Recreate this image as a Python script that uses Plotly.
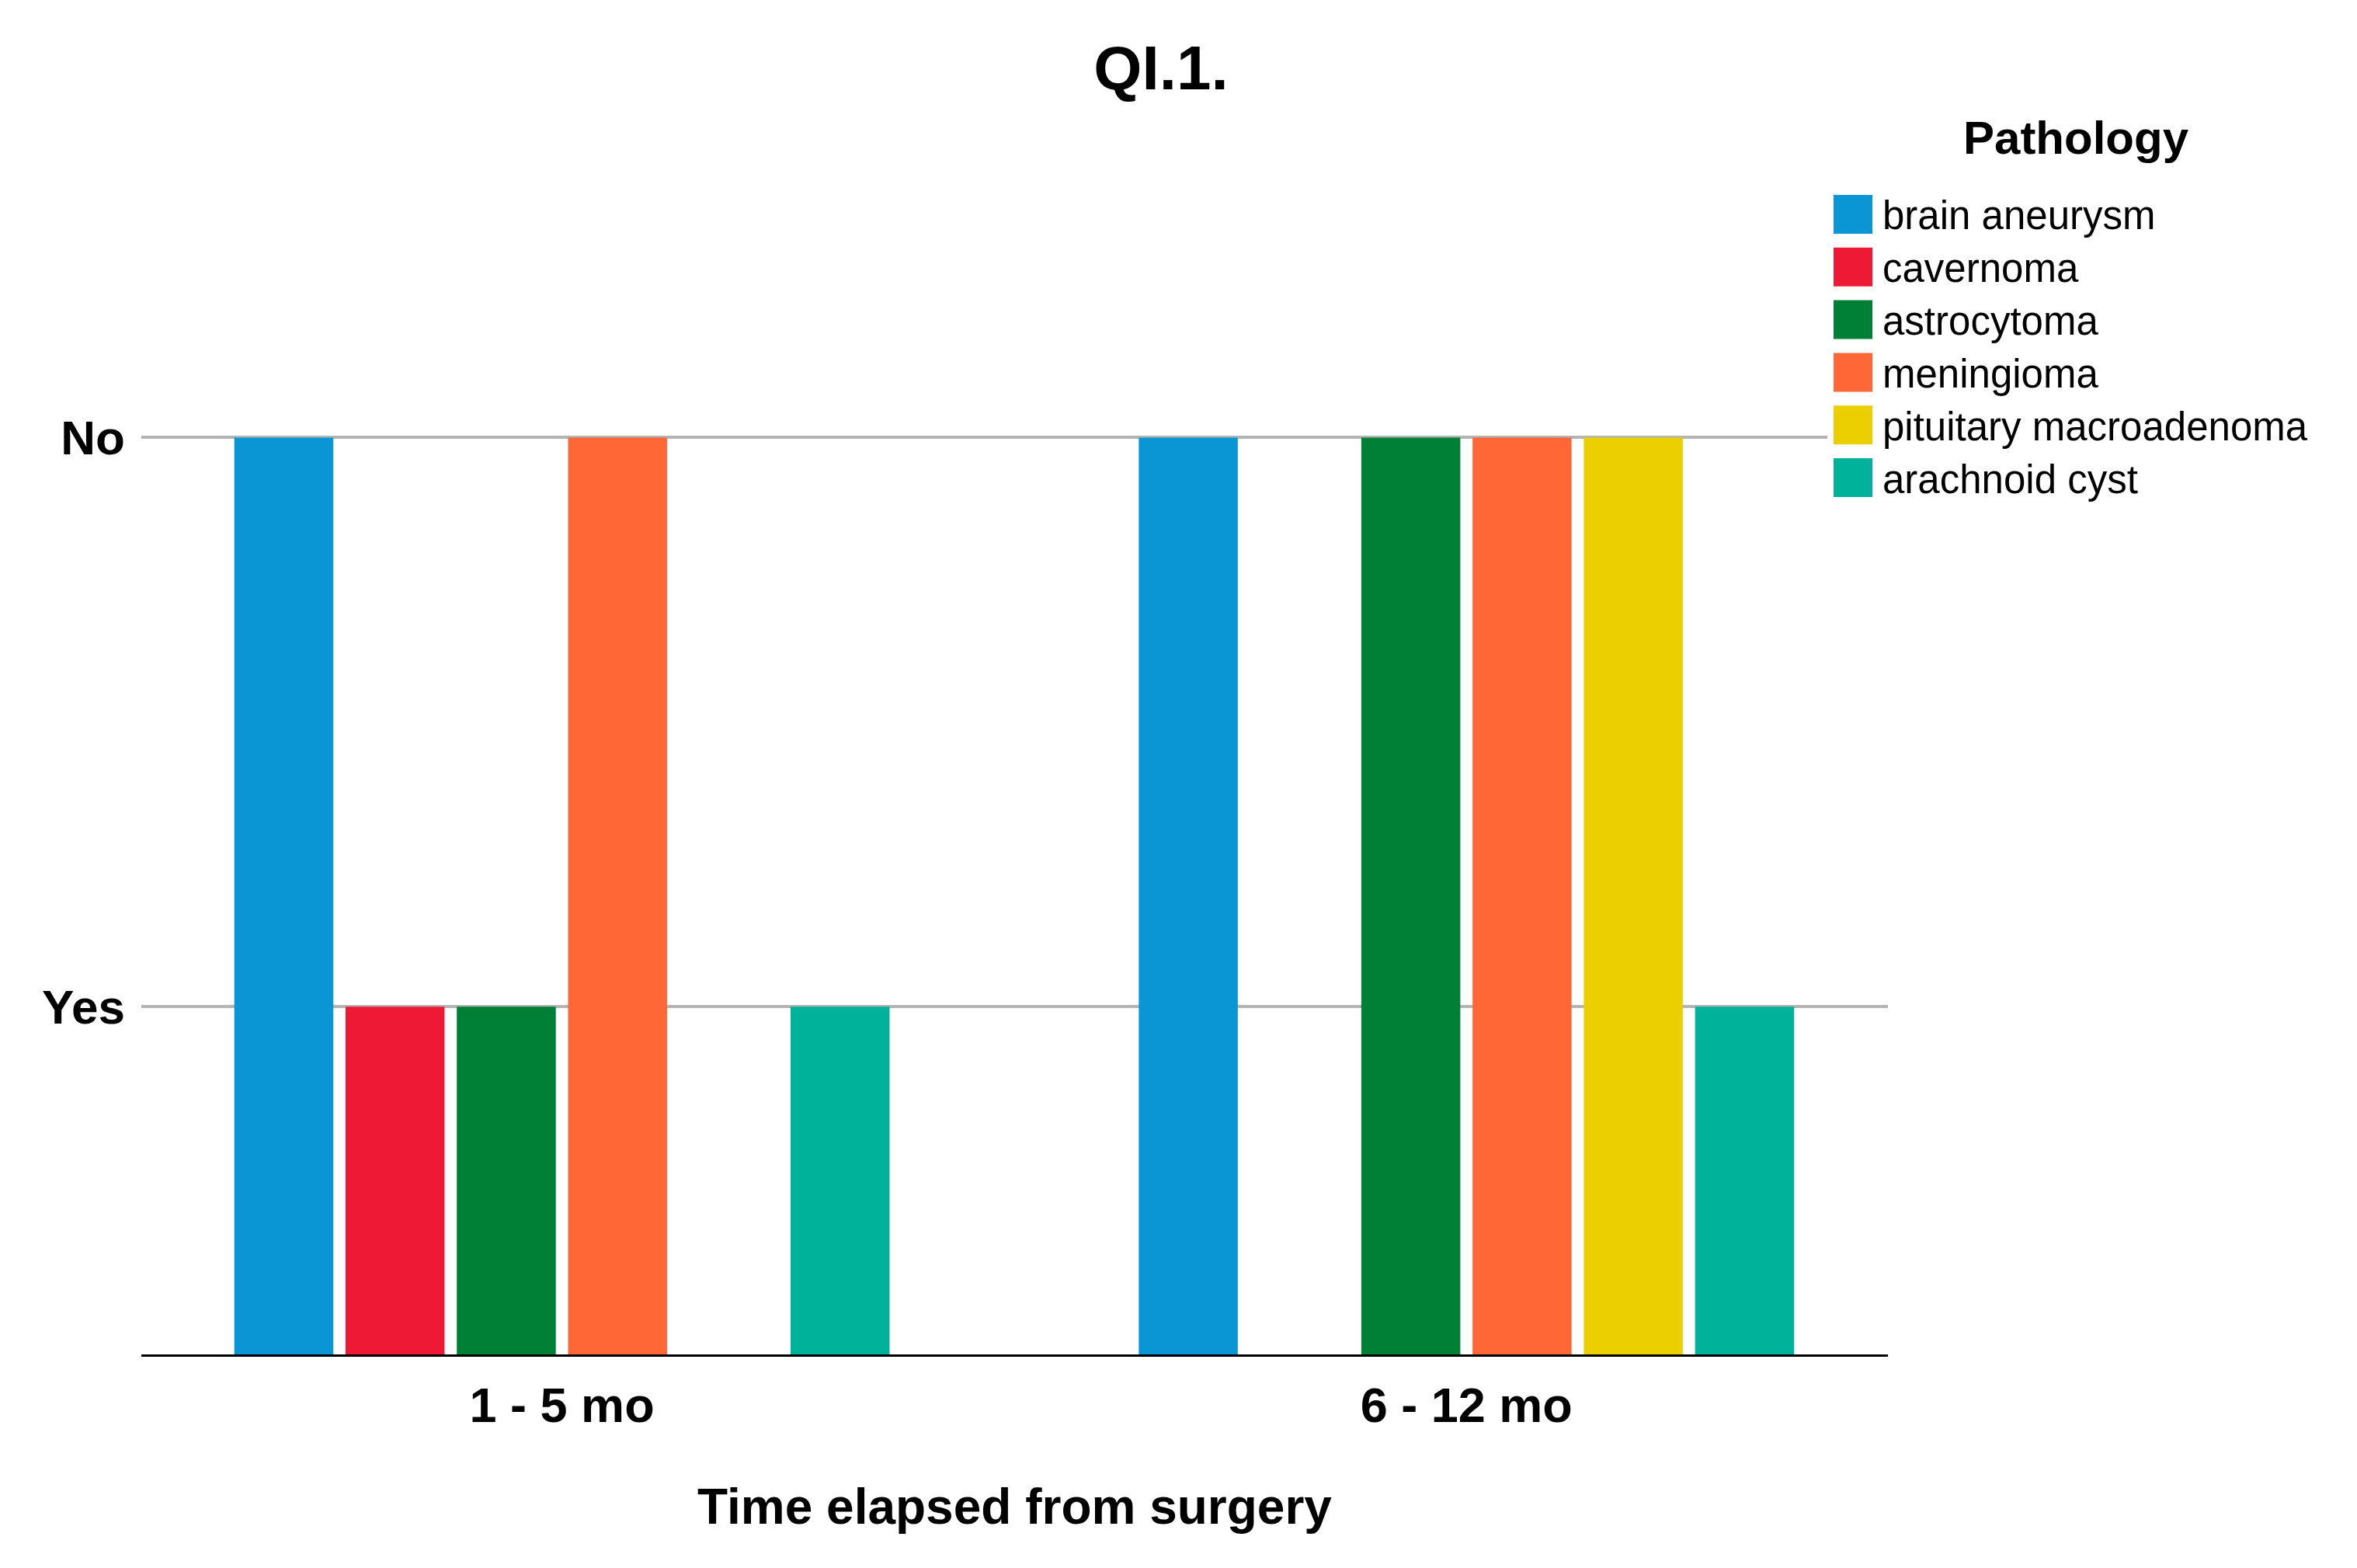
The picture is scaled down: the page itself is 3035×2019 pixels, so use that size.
import plotly.graph_objects as go

# ---- data ----
time_groups = ["1 - 5 mo", "6 - 12 mo"]
pathologies = ["brain aneurysm", "cavernoma", "astrocytoma", "meningioma",
               "pituitary macroadenoma", "arachnoid cyst"]
brain_aneurysm = ["No", "No"]
cavernoma = ["Yes", None]
astrocytoma = ["Yes", "No"]
meningioma = ["No", "No"]
pituitary_macroadenoma = [None, "No"]
arachnoid_cyst = ["Yes", "Yes"]
response_levels = ["Yes", "No"]          # order on the value axis (bottom to top)
colors = ["#0A96D4", "#EE1A35", "#007F37", "#FF6836", "#EBCF00", "#00B29A"]

series = [brain_aneurysm, cavernoma, astrocytoma, meningioma,
          pituitary_macroadenoma, arachnoid_cyst]
level_value = {lvl: i + 1 for i, lvl in enumerate(response_levels)}

# ---- layout geometry (pixels, reference screen coordinates) ----
SW, SH = 3035, 2019          # screen
OFF = 8                      # default page margin
W, H = SW - 2 * OFF, SH - 2 * OFF
PL, PR, PT, PB = 182, 2431, 559, 1744     # plot area in screen px
ML, MR, MT, MB = PL - OFF, W - (PR - OFF), PT - OFF, H - (PB - OFF)
PW, PH = W - ML - MR, H - MT - MB
FONT = "Liberation Sans, Arial, sans-serif"


def px_x(px):
    return (px - OFF - ML) / PW


def px_y(py):
    return (H - MB - (py - OFF)) / PH


fig = go.Figure()
for name, vals, col in zip(pathologies, series, colors):
    fig.add_trace(go.Bar(
        x=time_groups,
        y=[level_value[v] if v is not None else None for v in vals],
        name=name,
        marker=dict(color=col, line=dict(width=0)),
        showlegend=False,
    ))

fig.update_layout(
    width=W, height=H,
    margin=dict(l=ML, r=MR, t=MT, b=MB),
    paper_bgcolor="white", plot_bgcolor="white",
    barmode="group", bargap=0.262, bargroupgap=0.11,
    font=dict(family=FONT, color="black"),
    title=dict(text="QI.1.", xref="container", x=(1495 - OFF) / W, xanchor="center",
               yref="container", y=1 - (87 - OFF) / H, yanchor="middle",
               font=dict(size=80, weight="bold", family=FONT, color="black")),
)

fig.update_xaxes(
    type="category", range=[-0.465, 1.466],
    showline=True, linecolor="black", linewidth=3,
    showgrid=False, zeroline=False, ticks="",
    tickfont=dict(size=63, weight="bold", family=FONT, color="black"),
    ticklabelstandoff=8,
    title=dict(text="Time elapsed from surgery", standoff=75,
               font=dict(size=64, weight="bold", family=FONT, color="black")),
)
fig.update_yaxes(
    range=[0.389, 2.006],
    tickvals=[level_value[l] for l in response_levels],
    ticktext=response_levels,
    showgrid=True, gridcolor="#B4B4B4", gridwidth=4,
    showline=False, zeroline=False, ticks="",
    ticklabelstandoff=20,
    tickfont=dict(size=62, weight="bold", family=FONT, color="black"),
)

# ---- legend (drawn manually for large swatches) ----
shapes = [dict(type="rect", xref="paper", yref="paper",
               x0=px_x(2353), x1=px_x(SW), y0=px_y(665), y1=px_y(130),
               fillcolor="white", line=dict(width=0), layer="above")]
annotations = [dict(text="Pathology", xref="paper", yref="paper",
                    x=px_x(2673), y=px_y(177), xanchor="center", yanchor="middle",
                    showarrow=False,
                    font=dict(size=60, weight="bold", family=FONT, color="black"))]
row0, row_step = 276, 67.8
for i, (name, col) in enumerate(zip(pathologies, colors)):
    cy = row0 + row_step * i
    shapes.append(dict(type="rect", xref="paper", yref="paper",
                       x0=px_x(2361), x1=px_x(2411), y0=px_y(cy + 25), y1=px_y(cy - 25),
                       fillcolor=col, line=dict(width=0), layer="above"))
    annotations.append(dict(text=name, xref="paper", yref="paper",
                            x=px_x(2422), y=px_y(cy + 2), xanchor="left", yanchor="middle",
                            showarrow=False,
                            font=dict(size=51, family=FONT, color="black")))
fig.update_layout(shapes=shapes, annotations=annotations)

fig.write_html("out.html")
